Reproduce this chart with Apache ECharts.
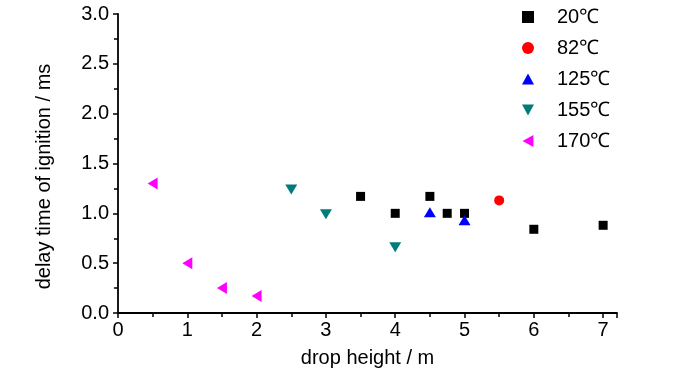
<!DOCTYPE html>
<html><head><meta charset="utf-8">
<script src="https://cdn.jsdelivr.net/npm/echarts@6/dist/echarts.min.js"></script>
<style>html,body{margin:0;padding:0;background:#fff}#c{width:700px;height:374px}</style>
</head><body><div id="c"></div>
<script>
var seriesNames = ['20℃', '82℃', '125℃', '155℃', '170℃'];
var s20 = [[3.5, 1.17], [4, 1.0], [4.5, 1.17], [4.75, 1.0], [5, 1.0], [6, 0.84], [7, 0.88]];
var s82 = [[5.5, 1.13]];
var s125 = [[4.5, 1.01], [5, 0.93]];
var s155 = [[2.5, 1.24], [3, 0.99], [4, 0.66]];
var s170 = [[0.5, 1.30], [1, 0.50], [1.5, 0.25], [2, 0.17]];
var colors = ['#000000', '#ff0000', '#0000ff', '#007b7b', '#ff00ff'];
var symbols = ['rect', 'circle', 'path://M5,0L10,9L0,9Z', 'path://M0,0L10,0L5,9Z', 'path://M9,0L9,10L0,5Z'];
var sizes = [[9, 9], [10, 10], [12, 10], [12, 10], [10, 12]];
var datasets = [s20, s82, s125, s155, s170];
var font = '"Liberation Sans Narrow","Liberation Sans",Arial,sans-serif';

var chart = echarts.init(document.getElementById('c'));
chart.setOption({
  animation: false,
  backgroundColor: '#fff',
  grid: {left: 118, right: 83, top: 14, bottom: 61},
  legend: {
    orient: 'vertical', left: 517, top: 2, itemGap: 11,
    itemWidth: 12, itemHeight: 12,
    textStyle: {fontFamily: font, fontSize: 20, color: '#000', padding: [0, 0, 0, 18]},
    data: seriesNames.map(function (n, i) { return {name: n, icon: symbols[i]}; })
  },
  xAxis: {
    type: 'value', min: 0, max: 7.2, interval: 1,
    name: 'drop height / m', nameLocation: 'middle', nameGap: 35,
    nameTextStyle: {fontFamily: font, fontSize: 20, color: '#000'},
    axisLine: {lineStyle: {color: '#000', width: 1.8}},
    axisTick: {show: true, length: 5, lineStyle: {color: '#000', width: 1.5}},
    minorTick: {show: true, splitNumber: 2, length: 4, lineStyle: {color: '#000', width: 1.5}},
    axisLabel: {fontFamily: font, fontSize: 20, color: '#000', margin: 7, showMaxLabel: false},
    splitLine: {show: false}
  },
  yAxis: {
    type: 'value', min: 0, max: 3, interval: 0.5,
    name: 'delay time of ignition / ms', nameLocation: 'middle', nameGap: 64,
    nameTextStyle: {fontFamily: font, fontSize: 20, color: '#000', padding: [0, 26, 0, 0]},
    axisLine: {show: true, lineStyle: {color: '#000', width: 1.8}},
    axisTick: {show: true, length: 5, lineStyle: {color: '#000', width: 1.5}},
    minorTick: {show: true, splitNumber: 2, length: 4, lineStyle: {color: '#000', width: 1.5}},
    axisLabel: {fontFamily: font, fontSize: 20, color: '#000', margin: 9,
      formatter: function (v) { return v.toFixed(1); }},
    splitLine: {show: false}
  },
  series: datasets.map(function (d, i) {
    return {
      name: seriesNames[i], type: 'scatter', data: d,
      symbol: symbols[i], symbolSize: sizes[i],
      itemStyle: {color: colors[i], opacity: 1}
    };
  })
});
</script></body></html>
